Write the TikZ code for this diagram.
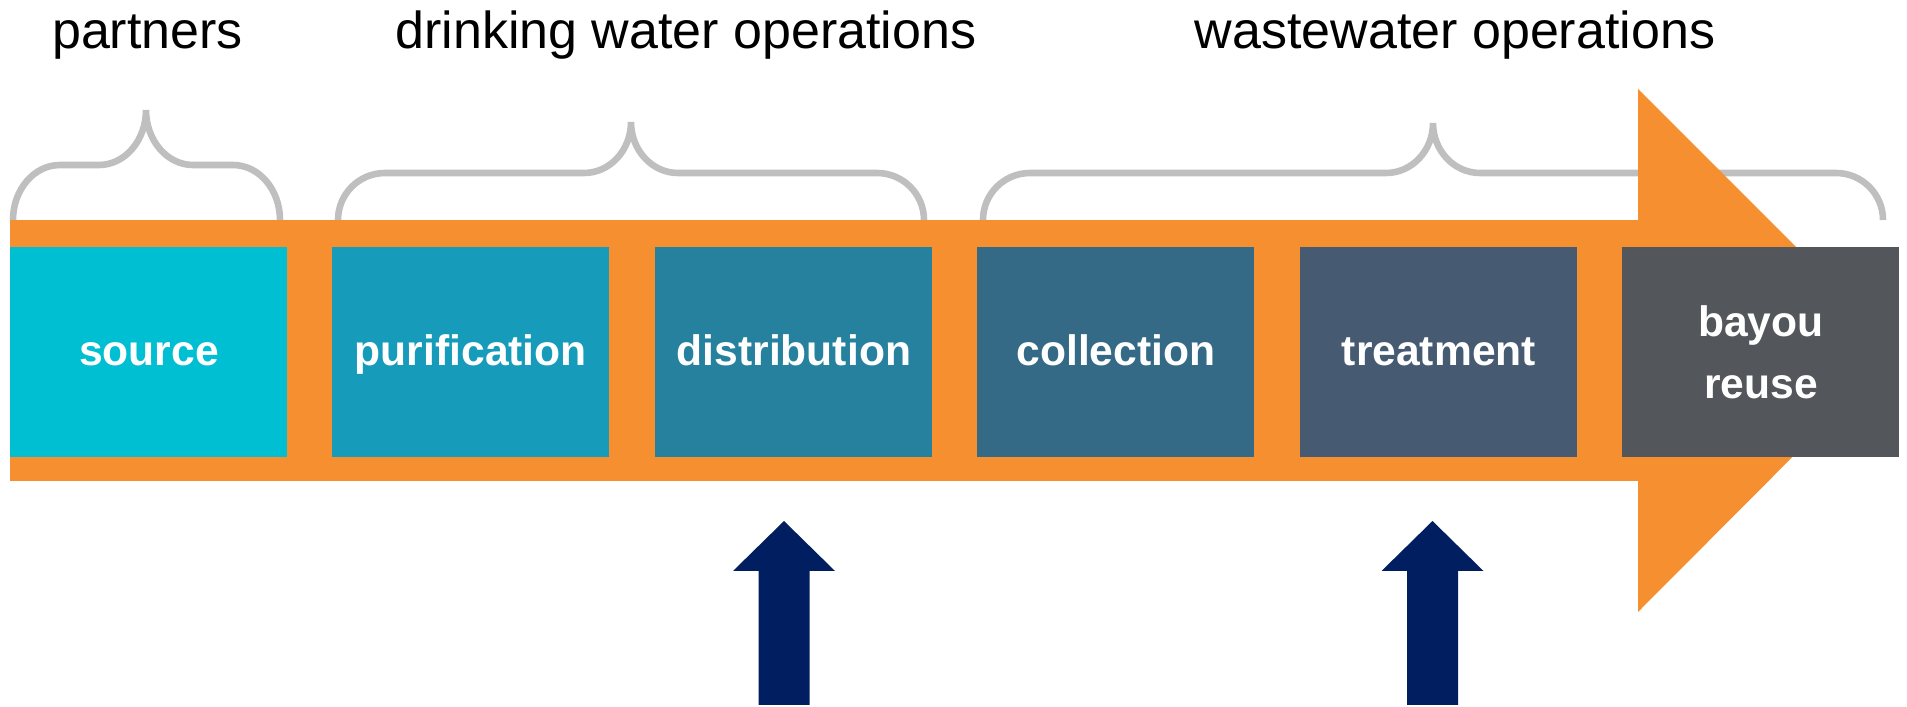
\documentclass[tikz,border=0pt]{standalone}
\usepackage{fontspec}
\setmainfont{Liberation Sans}
\definecolor{flow}{RGB}{245,143,48}
\definecolor{bracegray}{RGB}{191,191,191}
\definecolor{navy}{RGB}{0,30,96}
\definecolor{csource}{RGB}{0,191,211}
\definecolor{cpurif}{RGB}{22,156,186}
\definecolor{cdistr}{RGB}{38,129,159}
\definecolor{ccollect}{RGB}{52,106,134}
\definecolor{ctreat}{RGB}{70,91,113}
\definecolor{cbayou}{RGB}{83,86,90}
\tikzset{
  stage/.style={rectangle,minimum width=138.5pt,minimum height=105pt,inner sep=0pt,
    text=white,font=\fontsize{21.3}{31}\selectfont\bfseries,align=center,
    text height=13.4pt,text depth=0pt},
  group/.style={anchor=base,font=\fontsize{26}{30}\selectfont},
  brace/.style={draw=bracegray,line width=3.3pt}
}
% brace: left x, tip x, right x, bottom y, level y, tip y
\newcommand{\grpbrace}[6]{%
  \draw[brace] (#1,#4) arc[start angle=180,end angle=90,x radius=47,y radius={#5-#4}]
    -- (#2-47,#5) arc[start angle=270,end angle=360,x radius=47,y radius={#6-#5}]
    arc[start angle=180,end angle=270,x radius=47,y radius={#6-#5}]
    -- (#3-47,#5) arc[start angle=90,end angle=0,x radius=47,y radius={#5-#4}];}
% up arrow at centre x
\newcommand{\uparr}[1]{%
  \fill[navy] (#1-25.5,2) -- (#1-25.5,136) -- (#1-51,136) -- (#1,186)
    -- (#1+51,136) -- (#1+25.5,136) -- (#1+25.5,2) -- cycle;}
\begin{document}
\begin{tikzpicture}[x=0.5pt,y=0.5pt]
  \useasboundingbox (0,0) rectangle (1907,707);
  % group labels
  \node[group] (partners) at (147.5,658) {partners};
  \node[group] (drinking) at (686,658) {drinking water operations};
  \node[group] (waste) at (1455,658) {wastewater operations};
  % braces
  \grpbrace{13}{146}{280}{487}{542}{597}
  \grpbrace{338}{631}{924}{487}{534}{585}
  \grpbrace{983}{1433}{1883}{487}{534}{584}
  % process arrow
  \fill[flow] (10,226) rectangle (1640,487);
  \fill[flow] (1638,618) -- (1899,357) -- (1638,95) -- cycle;
  % stages
  \node[stage,fill=csource,anchor=west] (source) at (10,355) {source};
  \node[stage,fill=cpurif,anchor=west] (purif) at (332,355) {purification};
  \node[stage,fill=cdistr,anchor=west] (distr) at (655,355) {distribution};
  \node[stage,fill=ccollect,anchor=west] (collect) at (977,355) {collection};
  \node[stage,fill=ctreat,anchor=west] (treat) at (1300,355) {treatment};
  \node[stage,fill=cbayou,anchor=west,text height={},text depth={}] (bayou) at (1622,355) {bayou\\reuse};
  % inputs
  \uparr{784}
  \uparr{1432.5}
\end{tikzpicture}
\end{document}
